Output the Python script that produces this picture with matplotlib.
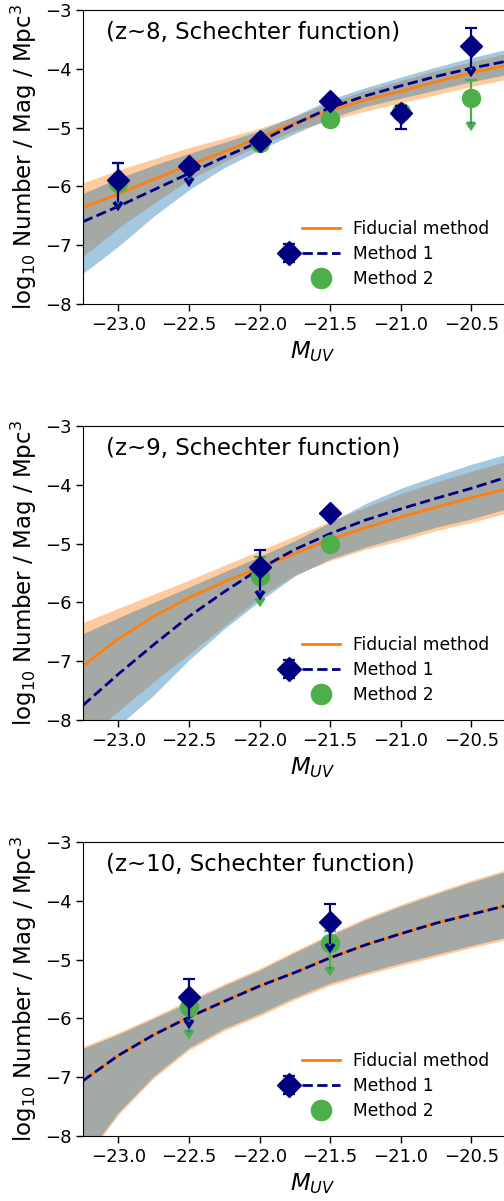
import matplotlib
matplotlib.use("Agg")
import matplotlib.pyplot as plt
from matplotlib.container import ErrorbarContainer
from matplotlib.legend_handler import HandlerErrorbar

M_grid = [-23.25, -23.0, -22.75, -22.5, -22.25, -22.0, -21.75,
          -21.5, -21.25, -21.0, -20.75, -20.5, -20.25, -20.0]

# ---- z~8 ----
fid_z8 = [-6.36, -6.13, -5.88, -5.64, -5.41, -5.17, -4.92, -4.71, -4.53, -4.38, -4.22, -4.07, -3.94, -3.82]
fid_hi_z8 = [-5.94, -5.72, -5.53, -5.34, -5.18, -5.01, -4.81, -4.57, -4.37, -4.20, -4.03, -3.88, -3.74, -3.61]
fid_lo_z8 = [-7.19, -6.71, -6.29, -5.89, -5.58, -5.30, -5.05, -4.88, -4.72, -4.58, -4.44, -4.30, -4.18, -4.07]
m1_z8 = [-6.60, -6.34, -6.06, -5.78, -5.50, -5.24, -4.94, -4.66, -4.46, -4.29, -4.13, -3.99, -3.87, -3.76]
m1_hi_z8 = [-6.12, -5.86, -5.64, -5.44, -5.25, -5.05, -4.80, -4.52, -4.32, -4.14, -3.97, -3.81, -3.67, -3.55]
m1_lo_z8 = [-7.48, -7.02, -6.51, -6.06, -5.68, -5.38, -5.10, -4.84, -4.64, -4.50, -4.36, -4.22, -4.10, -3.99]

pt1_x_z8 = [-23.0, -22.5, -22.0, -21.5, -21.0, -20.5]
pt1_y_z8 = [-5.89, -5.66, -5.22, -4.54, -4.76, -3.61]
pt1_up_z8 = [0.29, 0.08, 0.05, 0.05, 0.13, 0.30]
pt1_dn_z8 = [0.37, 0.20, 0.05, 0.05, 0.27, 0.38]
pt1_lim_z8 = [True, True, False, False, False, True]

pt2_x_z8 = [-23.0, -22.0, -21.5, -21.0, -20.5]
pt2_y_z8 = [-5.94, -5.26, -4.85, -4.74, -4.49]
pt2_up_z8 = [0.34, 0.05, 0.05, 0.05, 0.30]
pt2_dn_z8 = [0.32, 0.05, 0.05, 0.05, 0.41]
pt2_lim_z8 = [True, False, False, False, True]

# ---- z~9 ----
fid_z9 = [-7.08, -6.62, -6.24, -5.92, -5.65, -5.41, -5.17, -4.93, -4.73, -4.55, -4.38, -4.22, -4.07, -3.93]
fid_hi_z9 = [-6.34, -6.10, -5.86, -5.62, -5.37, -5.12, -4.87, -4.62, -4.38, -4.15, -3.95, -3.77, -3.60, -3.45]
fid_lo_z9 = [-8.35, -7.85, -7.35, -6.88, -6.40, -5.92, -5.53, -5.29, -5.10, -4.95, -4.78, -4.64, -4.48, -4.35]
m1_z9 = [-7.75, -7.22, -6.72, -6.24, -5.82, -5.43, -5.10, -4.83, -4.60, -4.41, -4.23, -4.06, -3.87, -3.72]
m1_hi_z9 = [-6.53, -6.26, -6.00, -5.74, -5.48, -5.22, -4.95, -4.64, -4.32, -4.06, -3.85, -3.65, -3.48, -3.33]
m1_lo_z9 = [-8.90, -8.10, -7.58, -6.98, -6.45, -5.98, -5.55, -5.26, -5.06, -4.89, -4.72, -4.58, -4.41, -4.28]

pt1_x_z9 = [-22.0, -21.5]
pt1_y_z9 = [-5.40, -4.48]
pt1_up_z9 = [0.29, 0.05]
pt1_dn_z9 = [0.41, 0.05]
pt1_lim_z9 = [True, False]

pt2_x_z9 = [-22.0, -21.5]
pt2_y_z9 = [-5.55, -5.00]
pt2_up_z9 = [0.32, 0.05]
pt2_dn_z9 = [0.38, 0.05]
pt2_lim_z9 = [True, False]

# ---- z~10 ----
fid_z10 = [-7.06, -6.63, -6.28, -5.98, -5.71, -5.45, -5.22, -4.97, -4.75, -4.56, -4.38, -4.23, -4.08, -3.95]
fid_hi_z10 = [-6.48, -6.24, -5.97, -5.69, -5.41, -5.15, -4.85, -4.56, -4.29, -4.06, -3.85, -3.65, -3.47, -3.32]
fid_lo_z10 = [-8.45, -7.64, -7.02, -6.54, -6.21, -5.96, -5.68, -5.44, -5.26, -5.10, -4.95, -4.80, -4.66, -4.54]
m1_z10 = [-7.06, -6.63, -6.28, -5.98, -5.71, -5.45, -5.22, -4.97, -4.75, -4.56, -4.38, -4.23, -4.08, -3.95]
m1_hi_z10 = [-6.51, -6.27, -6.00, -5.72, -5.44, -5.18, -4.88, -4.59, -4.32, -4.09, -3.88, -3.68, -3.50, -3.35]
m1_lo_z10 = [-8.40, -7.60, -6.98, -6.50, -6.17, -5.92, -5.64, -5.40, -5.22, -5.06, -4.91, -4.76, -4.62, -4.50]

pt1_x_z10 = [-22.5, -21.5]
pt1_y_z10 = [-5.64, -4.36]
pt1_up_z10 = [0.31, 0.31]
pt1_dn_z10 = [0.39, 0.37]
pt1_lim_z10 = [True, True]

pt2_x_z10 = [-22.5, -21.5]
pt2_y_z10 = [-5.81, -4.71]
pt2_up_z10 = [0.20, 0.20]
pt2_dn_z10 = [0.39, 0.42]
pt2_lim_z10 = [True, True]

titles = ['(z~8, Schechter function)', '(z~9, Schechter function)', '(z~10, Schechter function)']
labels = ['Fiducial method', 'Method 1', 'Method 2']

panels = [
    (fid_z8, fid_hi_z8, fid_lo_z8, m1_z8, m1_hi_z8, m1_lo_z8,
     (pt1_x_z8, pt1_y_z8, pt1_up_z8, pt1_dn_z8, pt1_lim_z8),
     (pt2_x_z8, pt2_y_z8, pt2_up_z8, pt2_dn_z8, pt2_lim_z8)),
    (fid_z9, fid_hi_z9, fid_lo_z9, m1_z9, m1_hi_z9, m1_lo_z9,
     (pt1_x_z9, pt1_y_z9, pt1_up_z9, pt1_dn_z9, pt1_lim_z9),
     (pt2_x_z9, pt2_y_z9, pt2_up_z9, pt2_dn_z9, pt2_lim_z9)),
    (fid_z10, fid_hi_z10, fid_lo_z10, m1_z10, m1_hi_z10, m1_lo_z10,
     (pt1_x_z10, pt1_y_z10, pt1_up_z10, pt1_dn_z10, pt1_lim_z10),
     (pt2_x_z10, pt2_y_z10, pt2_up_z10, pt2_dn_z10, pt2_lim_z10)),
]

NAVY = 'navy'
GREEN = '#4daf4a'


class ShiftedErrorbar(HandlerErrorbar):
    # diamond sits left of the dashed line in the legend
    def get_xdata(self, legend, xdescent, ydescent, width, height, fontsize):
        xdata, xm = super().get_xdata(legend, xdescent, ydescent, width, height, fontsize)
        return xdata, [v - 0.5 * width - 0.75 * fontsize for v in xm]


def draw_points(ax, pts, color, marker, ms, z):
    x, y, up, dn, lim = pts
    dn_cap = [0 if l else d for d, l in zip(dn, lim)]
    eb = ax.errorbar(x, y, yerr=[dn_cap, up], fmt=marker, color=color, ms=ms,
                     mec=color, elinewidth=1.6, capsize=4, capthick=1.6, zorder=z)
    # downward arrows for the limits
    xl = [a for a, l in zip(x, lim) if l]
    yl = [b for b, l in zip(y, lim) if l]
    dl = [d for d, l in zip(dn, lim) if l]
    if xl:
        ax.errorbar(xl, yl, yerr=dl, uplims=True, fmt='none', ecolor=color,
                    elinewidth=1.6, capsize=3, capthick=2.6, zorder=z - 0.05)
    return eb


fig = plt.figure(figsize=(5.04, 12.01), dpi=100)
bottoms = [897 / 1201, 481 / 1201, 65 / 1201]

for i, (fid, fhi, flo, m1, mhi, mlo, p1, p2) in enumerate(panels):
    ax = fig.add_axes([83 / 504, bottoms[i], 459 / 504, 294 / 1201])
    ax.fill_between(M_grid, flo, fhi, color='C1', alpha=0.4, lw=0, zorder=1)
    ax.fill_between(M_grid, mlo, mhi, color='C0', alpha=0.4, lw=0, zorder=1.1)
    h_fid, = ax.plot(M_grid, fid, color='C1', lw=2, zorder=2)
    h_m1, = ax.plot(M_grid, m1, color=NAVY, ls='--', lw=2, zorder=2.1)
    eb2 = draw_points(ax, p2, GREEN, 'o', 13, 3)
    eb1 = draw_points(ax, p1, NAVY, 'D', 11, 4)

    ax.set_xlim(-23.25, -20.0)
    ax.set_ylim(-8, -3)
    ax.set_xticks([-23.0, -22.5, -22.0, -21.5, -21.0, -20.5])
    ax.set_yticks([-8, -7, -6, -5, -4, -3])
    ax.tick_params(labelsize=13, length=4.8, width=1)
    ax.set_xlabel(r'$M_{UV}$', fontsize=16.5)
    ax.set_ylabel(r'log$_{10}$ Number / Mag / Mpc$^3$', fontsize=16.5)
    ax.text(0.05, 0.925, titles[i], transform=ax.transAxes, fontsize=16.5, va='center')
    ax.legend([h_fid, (eb1, h_m1), eb2[0]], labels,
              handler_map={ErrorbarContainer: ShiftedErrorbar()},
              frameon=False, loc='center left', bbox_to_anchor=(0.444, 0.17),
              fontsize=12.3, handlelength=2.2, labelspacing=0.42, markerscale=1.12)

fig.savefig('out.png', dpi=100)
